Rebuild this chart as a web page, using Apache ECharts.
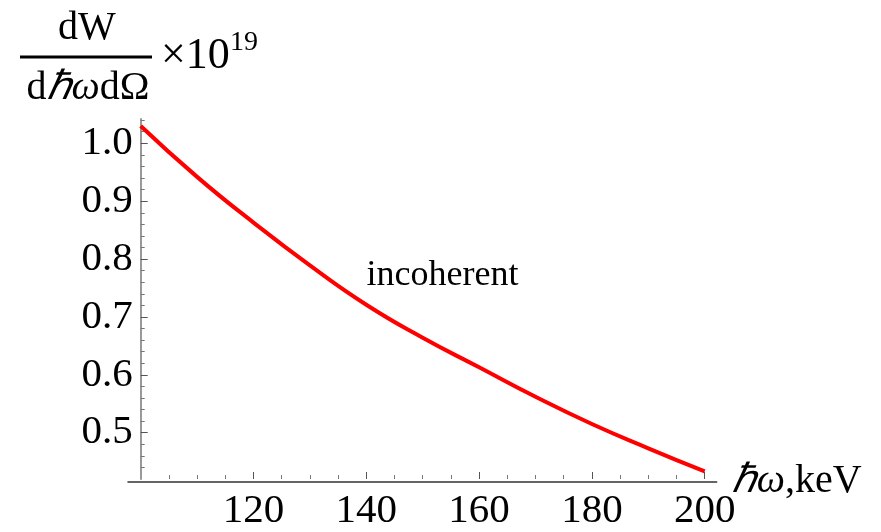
<!DOCTYPE html>
<html>
<head>
<meta charset="utf-8">
<script src="https://cdn.jsdelivr.net/npm/echarts@6/dist/echarts.min.js"></script>
<style>html,body{margin:0;padding:0;background:#fff}#c{width:881px;height:532px}</style>
</head>
<body>
<div id="c"></div>
<script>
// Data
const energies = [100, 110, 120, 130, 140, 150, 160, 170, 180, 190, 200];
const intensity = [1.030, 0.942, 0.863, 0.789, 0.721, 0.664, 0.613, 0.562, 0.515, 0.473, 0.433];
const xMajorTicks = [120, 140, 160, 180, 200];
const xMinorTicks = [105, 110, 115, 125, 130, 135, 145, 150, 155, 165, 170, 175, 185, 190, 195];
const yMajorTicks = [0.5, 0.6, 0.7, 0.8, 0.9, 1.0];
const yMinorTicks = [0.44, 0.46, 0.48, 0.52, 0.54, 0.56, 0.58, 0.62, 0.64, 0.66, 0.68, 0.72, 0.74, 0.76, 0.78, 0.82, 0.84, 0.86, 0.88, 0.92, 0.94, 0.96, 0.98, 1.02, 1.04];
const curveLabel = 'incoherent';

const FONT = "Liberation Serif";
const chart = echarts.init(document.getElementById('c'));
const yMin = 0.42, yMax = 1.042;
const gridTop = 119, gridBottom = 50.3;

chart.setOption({
  animation: false,
  backgroundColor: '#fff',
  textStyle: { fontFamily: FONT },
  grid: [
    { left: 140.7, right: 176.3, top: gridTop, bottom: gridBottom },
    { left: 128, right: 164.3, top: gridTop, bottom: gridBottom }
  ],
  xAxis: [
    {
      gridIndex: 0, type: 'value', min: 100, max: 200, position: 'bottom',
      axisLine: { show: false, onZero: false },
      axisTick: { show: true, inside: true, length: 7, customValues: xMajorTicks, lineStyle: { color: '#555', width: 1 } },
      axisLabel: { show: true, customValues: xMajorTicks, margin: 12, fontFamily: FONT, fontSize: 41, color: '#000' },
      splitLine: { show: false }
    },
    {
      gridIndex: 0, type: 'value', min: 100, max: 200, position: 'bottom',
      axisLine: { show: false, onZero: false },
      axisTick: { show: true, inside: true, length: 4, customValues: xMinorTicks, lineStyle: { color: '#777', width: 1 } },
      axisLabel: { show: false },
      splitLine: { show: false }
    },
    {
      gridIndex: 1, type: 'value', min: 97.7, max: 202.1, position: 'bottom',
      axisLine: { show: true, onZero: false, lineStyle: { color: '#333', width: 1.5 } },
      axisTick: { show: false }, axisLabel: { show: false }, splitLine: { show: false },
      name: '{i|ℏω}{r|,keV}', nameLocation: 'end', nameGap: 15,
      nameTextStyle: {
        verticalAlign: 'middle',
        rich: {
          i: { fontFamily: FONT, fontStyle: 'italic', fontSize: 40, color: '#000' },
          r: { fontFamily: FONT, fontSize: 40, color: '#000' }
        }
      }
    }
  ],
  yAxis: [
    {
      gridIndex: 0, type: 'value', min: yMin, max: yMax, position: 'left',
      axisLine: { show: true, onZero: false, lineStyle: { color: '#999', width: 2 } },
      axisTick: { show: true, inside: true, length: 7, customValues: yMajorTicks, lineStyle: { color: '#555', width: 1 } },
      axisLabel: { show: true, customValues: yMajorTicks, margin: 8, fontFamily: FONT, fontSize: 41, color: '#000', formatter: v => v.toFixed(1) },
      splitLine: { show: false }
    },
    {
      gridIndex: 0, type: 'value', min: yMin, max: yMax, position: 'left',
      axisLine: { show: false, onZero: false },
      axisTick: { show: true, inside: true, length: 4, customValues: yMinorTicks, lineStyle: { color: '#777', width: 1 } },
      axisLabel: { show: false }, splitLine: { show: false }
    },
    {
      gridIndex: 1, type: 'value', min: yMin, max: yMax, show: false
    }
  ],
  series: [
    {
      type: 'line', xAxisIndex: 0, yAxisIndex: 0,
      data: energies.map((x, i) => [x, intensity[i]]),
      smooth: true, showSymbol: false, symbol: 'none',
      lineStyle: { color: '#ff0000', width: 4 }
    }
  ],
  graphic: [
    { type: 'text', x: 87, y: 28, style: { text: 'dW', fontFamily: FONT, fontSize: 40, fill: '#000', align: 'center', verticalAlign: 'middle' } },
    { type: 'line', shape: { x1: 20, y1: 57, x2: 152, y2: 57 }, style: { stroke: '#000', lineWidth: 3 } },
    { type: 'text', x: 88, y: 88, style: {
        text: '{r|d}{i|ℏω}{r|dΩ}', align: 'center', verticalAlign: 'middle',
        rich: {
          r: { fontFamily: FONT, fontSize: 40, fill: '#000' },
          i: { fontFamily: FONT, fontStyle: 'italic', fontSize: 40, fill: '#000' }
        } } },
    { type: 'text', x: 161, y: 56, style: { text: '×10', fontFamily: FONT, fontSize: 44, fill: '#000', align: 'left', verticalAlign: 'middle' } },
    { type: 'text', x: 230, y: 43, style: { text: '19', fontFamily: FONT, fontSize: 28, fill: '#000', align: 'left', verticalAlign: 'middle' } },
    { type: 'text', x: 442.5, y: 276, style: { text: curveLabel, fontFamily: FONT, fontSize: 36, fill: '#000', align: 'center', verticalAlign: 'middle' } }
  ]
});
</script>
</body>
</html>
